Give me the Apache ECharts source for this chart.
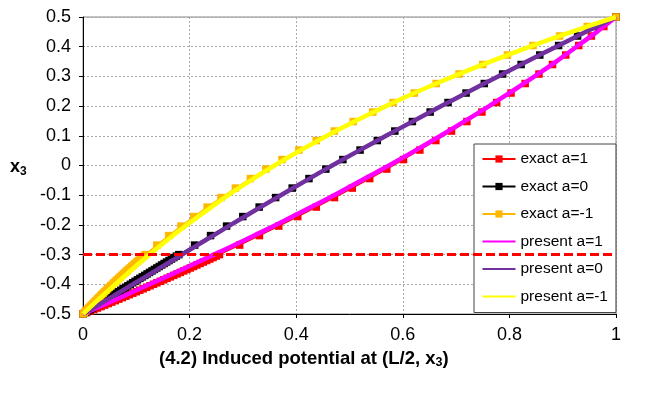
<!DOCTYPE html>
<html>
<head>
<meta charset="utf-8">
<script src="https://cdn.jsdelivr.net/npm/echarts@6/dist/echarts.min.js"></script>
<style>
  html, body { margin: 0; padding: 0; background: #fff; }
  #chart { width: 646px; height: 393px; }
</style>
</head>
<body>
<div id="chart"></div>
<script>
// Position x3 of the sampled nodes (fine spacing near the lower electrode)
const exactY = [
  -0.5, -0.495, -0.49, -0.485, -0.48, -0.475, -0.47, -0.465, -0.46, -0.455,
  -0.45, -0.445, -0.44, -0.435, -0.43, -0.425, -0.42, -0.415, -0.41, -0.405,
  -0.4, -0.395, -0.39, -0.385, -0.38, -0.375, -0.37, -0.365, -0.36, -0.355,
  -0.35, -0.345, -0.34, -0.335, -0.33, -0.325, -0.32, -0.315, -0.31, -0.305,
  -0.3,
  -0.268, -0.236, -0.204, -0.172, -0.14, -0.108, -0.076, -0.044, -0.012, 0.02,
  0.052, 0.084, 0.116, 0.148, 0.18, 0.212, 0.244, 0.276, 0.308, 0.34,
  0.372, 0.404, 0.436, 0.468, 0.5
];

// Exact induced potential at (L/2, x3)
const exactA1 = [
  0, 0.0068, 0.0136, 0.0204, 0.0271, 0.0339, 0.0406, 0.0473, 0.0539, 0.0606,
  0.0672, 0.0738, 0.0804, 0.0869, 0.0935, 0.1000, 0.1065, 0.1129, 0.1194, 0.1258,
  0.1322, 0.1386, 0.1450, 0.1513, 0.1576, 0.1639, 0.1702, 0.1765, 0.1827, 0.1889,
  0.1951, 0.2013, 0.2075, 0.2136, 0.2197, 0.2258, 0.2319, 0.2380, 0.2440, 0.2500,
  0.2560,
  0.2939, 0.3310, 0.3673, 0.4029, 0.4377, 0.4718, 0.5052, 0.5379, 0.5699, 0.6013,
  0.6320, 0.6620, 0.6914, 0.7202, 0.7484, 0.7761, 0.8031, 0.8296, 0.8555, 0.8809,
  0.9057, 0.9300, 0.9538, 0.9772, 1
];
const exactA0 = [
  0, 0.0044, 0.0088, 0.0132, 0.0176, 0.0220, 0.0264, 0.0308, 0.0352, 0.0396,
  0.0441, 0.0485, 0.0530, 0.0574, 0.0619, 0.0663, 0.0708, 0.0753, 0.0797, 0.0842,
  0.0887, 0.0932, 0.0977, 0.1022, 0.1067, 0.1113, 0.1158, 0.1203, 0.1248, 0.1294,
  0.1339, 0.1385, 0.1431, 0.1476, 0.1522, 0.1568, 0.1614, 0.1659, 0.1705, 0.1751,
  0.1798,
  0.2094, 0.2393, 0.2694, 0.2998, 0.3305, 0.3614, 0.3925, 0.4239, 0.4556, 0.4876,
  0.5198, 0.5522, 0.5850, 0.6180, 0.6513, 0.6849, 0.7187, 0.7529, 0.7873, 0.8220,
  0.8570, 0.8923, 0.9279, 0.9638, 1
];
const exactAm1 = [
  0, 0.0026, 0.0052, 0.0078, 0.0105, 0.0131, 0.0158, 0.0185, 0.0212, 0.0239,
  0.0267, 0.0294, 0.0322, 0.0350, 0.0378, 0.0406, 0.0434, 0.0463, 0.0492, 0.0521,
  0.0550, 0.0579, 0.0608, 0.0638, 0.0668, 0.0698, 0.0728, 0.0758, 0.0789, 0.0819,
  0.0850, 0.0881, 0.0912, 0.0944, 0.0975, 0.1007, 0.1039, 0.1071, 0.1104, 0.1136,
  0.1169,
  0.1384, 0.1607, 0.1838, 0.2079, 0.2329, 0.2589, 0.2859, 0.3140, 0.3431, 0.3734,
  0.4049, 0.4376, 0.4716, 0.5070, 0.5437, 0.5819, 0.6215, 0.6627, 0.7055, 0.7500,
  0.7963, 0.8443, 0.8942, 0.9461, 1
];

// Present method, evaluated on a uniform grid in x3
const presentY = [
  -0.5, -0.45, -0.4, -0.35, -0.3, -0.25, -0.2, -0.15, -0.1, -0.05,
  0, 0.05, 0.1, 0.15, 0.2, 0.25, 0.3, 0.35, 0.4, 0.45, 0.5
];
const presentA1 = [
  0, 0.0632, 0.1252, 0.1861, 0.2459, 0.3048, 0.3618, 0.4169, 0.4712, 0.5228,
  0.5738, 0.6231, 0.6708, 0.7170, 0.7618, 0.8051, 0.8471, 0.8877, 0.9260, 0.9641, 1
];
const presentA0 = [
  0, 0.0471, 0.0937, 0.1399, 0.1858, 0.2312, 0.2772, 0.3239, 0.3711, 0.4190,
  0.4675, 0.5177, 0.5686, 0.6201, 0.6723, 0.7251, 0.7787, 0.8329, 0.8879, 0.9436, 1
];
const presentAm1 = [
  0, 0.0297, 0.0610, 0.0920, 0.1249, 0.1588, 0.1948, 0.2330, 0.2725, 0.3146,
  0.3593, 0.4069, 0.4575, 0.5112, 0.5684, 0.6291, 0.6947, 0.7643, 0.8382, 0.9167, 1
];

// Reference level drawn as a dashed line
const cutLevel = -0.3;

const FONT = '"Liberation Sans", Arial, sans-serif';
const pairs = (xs, ys) => xs.map((x, i) => [x, ys[i]]);
const fmt = v => String(Math.round(v * 10) / 10);

function exactSeries(name, xs, color) {
  return {
    name, type: 'line', data: pairs(xs, exactY),
    symbol: 'rect', symbolSize: 7.5, showSymbol: true,
    itemStyle: { color },
    lineStyle: { color, width: 1.3 },
    z: 2
  };
}
function presentSeries(name, xs, color) {
  return {
    name, type: 'line', data: pairs(xs, presentY),
    symbol: 'none', smooth: 0.2,
    itemStyle: { color },
    lineStyle: { color, width: 4.5 },
    z: 3
  };
}

const chart = echarts.init(document.getElementById('chart'), null, { renderer: 'canvas' });

chart.setOption({
  animation: false,
  backgroundColor: '#fff',
  grid: {
    left: 83, top: 17, right: 30, bottom: 79,
    show: true, borderColor: '#888', borderWidth: 1, backgroundColor: '#fff'
  },
  xAxis: {
    type: 'value', min: 0, max: 1, interval: 0.2,
    axisLine: { onZero: false, lineStyle: { color: '#000', width: 1 } },
    axisTick: { show: true, inside: false, length: 4, lineStyle: { color: '#000' } },
    axisLabel: { fontFamily: FONT, fontSize: 18, color: '#000', margin: 12, formatter: fmt },
    splitLine: { show: true, lineStyle: { color: '#a8a8a8', width: 1, type: [2, 2] } }
  },
  yAxis: {
    type: 'value', min: -0.5, max: 0.5, interval: 0.1,
    axisLine: { show: true, onZero: false, lineStyle: { color: '#000', width: 1 } },
    axisTick: { show: true, inside: false, length: 4, lineStyle: { color: '#000' } },
    axisLabel: { fontFamily: FONT, fontSize: 18, color: '#000', margin: 12, formatter: fmt },
    splitLine: { show: true, lineStyle: { color: '#a8a8a8', width: 1, type: [2, 2] } }
  },
  legend: {
    orient: 'vertical', left: 474, top: 144,
    itemWidth: 33, itemHeight: 9, itemGap: 11.5,
    padding: [7, 8, 8, 7.5],
    backgroundColor: '#fff', borderColor: '#444', borderWidth: 1,
    textStyle: { fontFamily: FONT, fontSize: 15.5, color: '#000', lineHeight: 16 },
    data: [
      { name: 'exact a=1' },
      { name: 'exact a=0' },
      { name: 'exact a=-1' },
      { name: 'present a=1', itemStyle: { opacity: 0 } },
      { name: 'present a=0', itemStyle: { opacity: 0 } },
      { name: 'present a=-1', itemStyle: { opacity: 0 } }
    ]
  },
  graphic: [
    {
      type: 'text', x: 10, y: 156, z: 10,
      style: {
        text: '{m|x}{s|3}',
        align: 'left', verticalAlign: 'top',
        rich: {
          m: { fontFamily: FONT, fontSize: 18, fontWeight: 'bold', lineHeight: 22, fill: '#000' },
          s: { fontFamily: FONT, fontSize: 12, fontWeight: 'bold', lineHeight: 12, verticalAlign: 'bottom', fill: '#000' }
        }
      }
    },
    {
      type: 'text', x: 159, y: 347.5, z: 10,
      style: {
        text: '{m|(4.2) Induced potential at (L/2, x}{s|3}{m|)}',
        align: 'left', verticalAlign: 'top',
        rich: {
          m: { fontFamily: FONT, fontSize: 18.5, fontWeight: 'bold', lineHeight: 22, fill: '#000' },
          s: { fontFamily: FONT, fontSize: 12.5, fontWeight: 'bold', lineHeight: 12, verticalAlign: 'bottom', fill: '#000' }
        }
      }
    }
  ],
  series: [
    exactSeries('exact a=1', exactA1, '#ff0000'),
    exactSeries('exact a=0', exactA0, '#000000'),
    exactSeries('exact a=-1', exactAm1, '#ffb800'),
    presentSeries('present a=1', presentA1, '#ff00ff'),
    presentSeries('present a=0', presentA0, '#7030a0'),
    presentSeries('present a=-1', presentAm1, '#ffff00'),
    {
      name: 'level', type: 'line', symbol: 'none',
      data: [[0, cutLevel], [1, cutLevel]],
      lineStyle: { color: '#ff0000', width: 3, type: [9, 4] },
      z: 4
    }
  ]
});
</script>
</body>
</html>
